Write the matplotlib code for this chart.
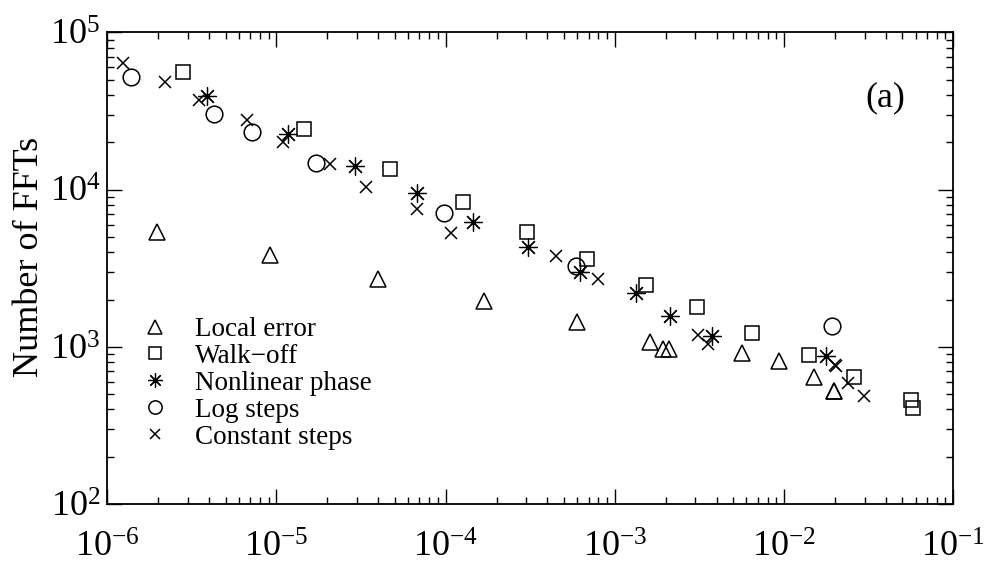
import matplotlib
matplotlib.use('Agg')
import matplotlib.pyplot as plt
from matplotlib.ticker import LogLocator, NullFormatter

plt.rcParams['font.family'] = ['Liberation Serif', 'DejaVu Serif']
plt.rcParams['mathtext.fontset'] = 'stix'

# Local error (triangles)
local_x = [1.98e-6, 9.16e-6, 4.0e-5, 1.69e-4, 6.0e-4, 1.62e-3, 1.92e-3, 2.10e-3,
           5.67e-3, 9.33e-3, 1.50e-2, 1.97e-2, 1.99e-2]
local_y = [5.4e3, 3.84e3, 2.7e3, 1.97e3, 1.43e3, 1.08e3, 964, 964,
           918, 816, 646, 526, 522]

# Walk-off (squares)
walk_x = [2.79e-6, 1.46e-5, 4.7e-5, 1.26e-4, 3.02e-4, 6.84e-4, 1.53e-3, 3.08e-3,
          6.48e-3, 1.40e-2, 2.61e-2, 5.64e-2, 5.79e-2]
walk_y = [5.57e4, 2.44e4, 1.35e4, 8.38e3, 5.40e3, 3.62e3, 2.47e3, 1.80e3,
          1.23e3, 887, 646, 459, 410]

# Nonlinear phase (asterisks)
nl_x = [3.9e-6, 1.17e-5, 2.92e-5, 6.76e-5, 1.45e-4, 3.09e-4, 6.24e-4, 1.34e-3,
        2.11e-3, 3.75e-3, 1.78e-2]
nl_y = [3.94e4, 2.26e4, 1.42e4, 9.47e3, 6.25e3, 4.29e3, 3.0e3, 2.19e3,
        1.58e3, 1.18e3, 878]

# Log steps (circles)
log_x = [1.38e-6, 4.28e-6, 7.14e-6, 1.71e-5, 9.85e-5, 5.91e-4, 1.92e-2]
log_y = [5.18e4, 3.01e4, 2.32e4, 1.48e4, 7.06e3, 3.27e3, 1.36e3]

# Constant steps (crosses)
const_x = [1.245e-6, 2.2e-6, 3.47e-6, 6.67e-6, 1.10e-5, 2.08e-5, 3.37e-5, 6.82e-5,
           1.07e-4, 4.5e-4, 8.0e-4, 3.11e-3, 3.54e-3, 2.0e-2, 2.03e-2, 2.39e-2, 2.98e-2]
const_y = [6.36e4, 4.86e4, 3.72e4, 2.77e4, 2.02e4, 1.45e4, 1.04e4, 7.5e3,
           5.32e3, 3.78e3, 2.70e3, 1.19e3, 1.04e3, 770, 760, 591, 486]

fig = plt.figure(figsize=(9.87, 5.67), dpi=100)
ax = fig.add_axes([0.1087, 0.1111, 0.8569, 0.8316])

lw = 1.1
ax.plot(local_x, local_y, '^', mfc='none', mec='k', mew=lw, ms=12, ls='none', label='Local error')
ax.plot(walk_x, walk_y, 's', mfc='none', mec='k', mew=lw, ms=10, ls='none', label='Walk\u2212off')
ax.plot(nl_x, nl_y, marker=(8, 2, 0), color='k', mew=0.9, ms=13, ls='none', label='Nonlinear phase')
ax.plot(log_x, log_y, 'o', mfc='none', mec='k', mew=lw, ms=12, ls='none', label='Log steps')
ax.plot(const_x, const_y, 'x', color='k', mew=lw, ms=9, ls='none', label='Constant steps')

ax.set_xscale('log')
ax.set_yscale('log')
ax.set_xlim(1e-6, 1e-1)
ax.set_ylim(1e2, 1e5)

ax.xaxis.set_minor_locator(LogLocator(base=10, subs=range(2, 10), numticks=20))
ax.yaxis.set_minor_locator(LogLocator(base=10, subs=range(2, 10), numticks=20))
ax.xaxis.set_minor_formatter(NullFormatter())
ax.yaxis.set_minor_formatter(NullFormatter())

ax.tick_params(which='both', direction='in', top=True, right=True, width=1.0)
ax.tick_params(which='major', length=11, labelsize=26)
ax.tick_params(axis='x', which='major', pad=20)
ax.tick_params(axis='y', which='major', pad=5)
ax.tick_params(which='minor', length=5)
for s in ax.spines.values():
    s.set_linewidth(1.3)

ax.set_ylabel('Number of FFTs', fontsize=26)
ax.yaxis.set_label_coords(-0.072, 0.525)
ax.text(0.92, 0.862, '(a)', transform=ax.transAxes, fontsize=26, ha='center', va='center')

ax.legend(loc='lower left', bbox_to_anchor=(0.008, 0.058), frameon=False, fontsize=19.5,
          markerscale=0.8, handlelength=1.0, handletextpad=1.0, labelspacing=0.07,
          borderaxespad=0.6)

plt.savefig('out.png', dpi=100)
